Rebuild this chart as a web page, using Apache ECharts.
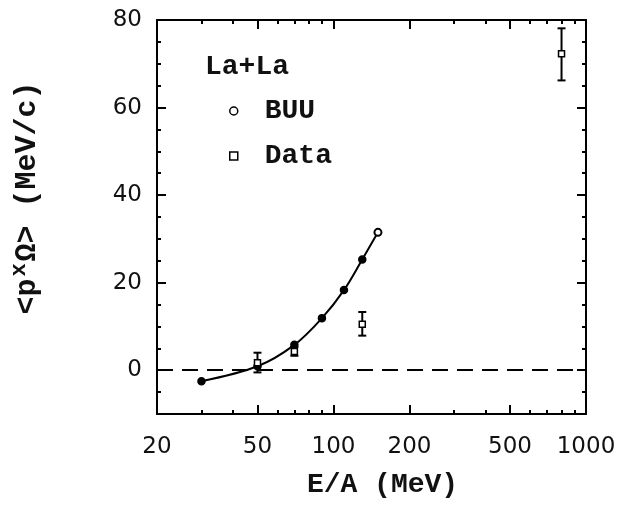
<!DOCTYPE html>
<html>
<head>
<meta charset="utf-8">
<script src="https://cdn.jsdelivr.net/npm/echarts@6/dist/echarts.min.js"></script>
<style>
  html, body { margin: 0; padding: 0; background: #fff; }
  #chart { width: 627px; height: 508px; }
</style>
</head>
<body>
<div id="chart"></div>
<script>
// BUU transport calculation, La+La
const buuEnergy = [30, 50, 70, 90, 110, 130, 150];
const buuMomentum = [-2.5, 0.9, 5.8, 11.9, 18.3, 25.3, 31.5];

// Measured values with their error bars
const dataEnergy = [50, 70, 130, 800];
const dataMomentum = [1.7, 4.3, 10.5, 72.3];
const dataLow = [-0.5, 3.3, 7.9, 66.2];
const dataHigh = [4.0, 5.3, 13.3, 78.1];

// Axis ticks and labels
const xLabelValues = [20, 50, 100, 200, 500, 1000];
const xMajorTicks = [50, 100, 200, 500];
const xMinorTicks = [30, 40, 60, 70, 80, 90, 300, 400, 600, 700, 800, 900];
const yLabelValues = [0, 20, 40, 60, 80];
const yMajorTicks = [0, 20, 40, 60];
const yMinorTicks = [-5, 5, 10, 15, 25, 30, 35, 45, 50, 55, 65, 70, 75];

const INK = '#000';
const TICK_FONT = 'DejaVu Sans';
const TITLE_FONT = 'Liberation Mono';

function xAxisDef(position, ticks, len, main) {
  return {
    type: 'log', logBase: 10, min: 20, max: 1000, position: position,
    axisLine: { show: main, onZero: false, lineStyle: { color: INK, width: 2 } },
    axisTick: { show: true, inside: true, length: len, customValues: ticks,
                lineStyle: { color: INK, width: 2 } },
    axisLabel: main && position === 'bottom' ? {
      show: true, customValues: xLabelValues, margin: 22,
      color: '#111', fontFamily: TICK_FONT, fontSize: 23,
      formatter: v => String(Math.round(v))
    } : { show: false },
    splitLine: { show: false },
    name: main && position === 'bottom' ? 'E/A (MeV)' : '',
    nameLocation: 'middle', nameGap: 57,
    nameTextStyle: { fontFamily: TITLE_FONT, fontWeight: 'bold', fontSize: 28,
                     color: '#111', padding: [0, 0, 0, 22] }
  };
}

function yAxisDef(position, ticks, len, main) {
  return {
    type: 'value', min: -10, max: 80, position: position,
    axisLine: { show: main, onZero: false, lineStyle: { color: INK, width: 2 } },
    axisTick: { show: true, inside: true, length: len, customValues: ticks,
                lineStyle: { color: INK, width: 2 } },
    axisLabel: main && position === 'left' ? {
      show: true, customValues: yLabelValues, margin: 15,
      color: '#111', fontFamily: TICK_FONT, fontSize: 23
    } : { show: false },
    splitLine: { show: false },
    name: main && position === 'left' ? '{a|<p}{s|x}{a|\u03A9> (MeV/c)}' : '',
    nameLocation: 'middle', nameRotate: 90, nameGap: 111,
    nameTextStyle: {
      padding: [0, 0, 0, 38],
      rich: {
        a: { fontFamily: TITLE_FONT, fontWeight: 'bold', fontSize: 30, color: '#111', lineHeight: 38 },
        s: { fontFamily: TITLE_FONT, fontWeight: 'bold', fontSize: 22, color: '#111',
             verticalAlign: 'top', lineHeight: 22, padding: [0, 2, 0, 2] }
      }
    }
  };
}

const chart = echarts.init(document.getElementById('chart'), null, { renderer: 'canvas' });

chart.setOption({
  backgroundColor: '#fff',
  animation: false,
  grid: { left: 154, right: 41, top: 20, bottom: 94 },
  title: {
    text: 'La+La', left: 200, top: 48,
    textStyle: { fontFamily: TITLE_FONT, fontWeight: 'bold', fontSize: 28, color: '#111' }
  },
  legend: {
    orient: 'vertical', left: 224, top: 92,
    itemWidth: 8, itemHeight: 8, itemGap: 17,
    textStyle: { fontFamily: TITLE_FONT, fontWeight: 'bold', fontSize: 28, color: '#111',
                 padding: [0, 0, 0, 22] },
    data: [
      { name: 'BUU', icon: 'circle',
        itemStyle: { color: '#fff', borderColor: INK, borderWidth: 1.5 } },
      { name: 'Data', icon: 'rect',
        itemStyle: { color: '#fff', borderColor: INK, borderWidth: 1.5 } }
    ]
  },
  xAxis: [
    xAxisDef('bottom', xMajorTicks, 9, true),
    xAxisDef('top', xMajorTicks, 9, true),
    xAxisDef('bottom', xMinorTicks, 4, false),
    xAxisDef('top', xMinorTicks, 4, false)
  ],
  yAxis: [
    yAxisDef('left', yMajorTicks, 9, true),
    yAxisDef('right', yMajorTicks, 9, true),
    yAxisDef('left', yMinorTicks, 4, false),
    yAxisDef('right', yMinorTicks, 4, false)
  ],
  series: [
    {
      name: 'BUU', type: 'line', smooth: 0.35,
      xAxisIndex: 0, yAxisIndex: 0,
      data: buuEnergy.map((e, i) => ({
        value: [e, buuMomentum[i]],
        symbol: i === buuEnergy.length - 1 ? 'emptyCircle' : 'circle'
      })),
      symbolSize: 7,
      lineStyle: { color: INK, width: 2 },
      itemStyle: { color: INK, borderColor: INK, borderWidth: 1.5 },
      markLine: {
        silent: true, symbol: 'none',
        label: { show: false },
        lineStyle: { color: INK, width: 2, type: [16, 9] },
        data: [{ yAxis: 0 }]
      },
      z: 3
    },
    {
      name: 'Data error', type: 'custom',
      xAxisIndex: 0, yAxisIndex: 0,
      data: dataEnergy.map((e, i) => [e, dataLow[i], dataHigh[i]]),
      renderItem: function (params, api) {
        const lo = api.coord([api.value(0), api.value(1)]);
        const hi = api.coord([api.value(0), api.value(2)]);
        const w = 4;
        const style = { stroke: INK, lineWidth: 2, fill: null };
        return {
          type: 'group',
          children: [
            { type: 'line', shape: { x1: lo[0], y1: lo[1], x2: hi[0], y2: hi[1] }, style: style },
            { type: 'line', shape: { x1: lo[0] - w, y1: lo[1], x2: lo[0] + w, y2: lo[1] }, style: style },
            { type: 'line', shape: { x1: hi[0] - w, y1: hi[1], x2: hi[0] + w, y2: hi[1] }, style: style }
          ]
        };
      },
      z: 4
    },
    {
      name: 'Data', type: 'scatter',
      xAxisIndex: 0, yAxisIndex: 0,
      data: dataEnergy.map((e, i) => [e, dataMomentum[i]]),
      symbol: 'rect', symbolSize: 6,
      itemStyle: { color: '#fff', borderColor: INK, borderWidth: 1.5, opacity: 1 },
      z: 5
    }
  ]
});
</script>
</body>
</html>
